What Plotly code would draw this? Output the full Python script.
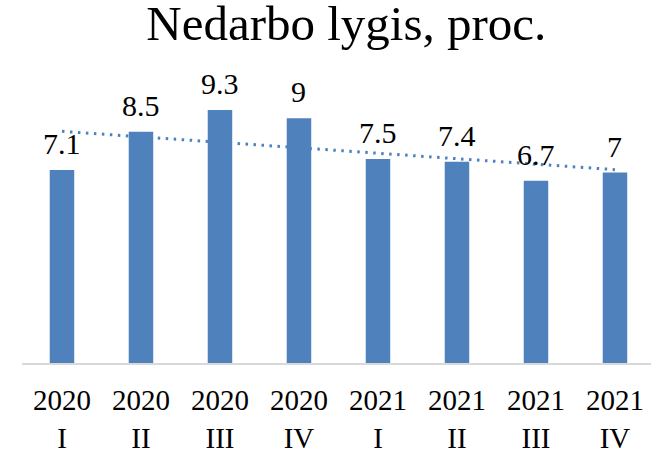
import numpy as np
import plotly.graph_objects as go

years = ["2020", "2020", "2020", "2020", "2021", "2021", "2021", "2021"]
quarters = ["I", "II", "III", "IV", "I", "II", "III", "IV"]
values = [7.1, 8.5, 9.3, 9.0, 7.5, 7.4, 6.7, 7.0]
title_text = "Nedarbo lygis, proc."

blue = "#4F81BD"
serif = "Liberation Serif, Times New Roman, serif"

idx = np.arange(len(values))
labels = [f"{y}<br>{q}" for y, q in zip(years, quarters)]

# linear trendline (as in spreadsheet)
slope, intercept = np.polyfit(idx, values, 1)
trend = slope * idx + intercept

fig = go.Figure()
fig.add_trace(go.Bar(x=idx, y=values, marker=dict(color=blue, line=dict(width=0)),
                     hoverinfo="skip"))
fig.add_trace(go.Scatter(x=idx, y=trend, mode="lines",
                         line=dict(color=blue, width=3, dash="2.5px,5.5px"),
                         hoverinfo="skip"))

for i, v in zip(idx, values):
    fig.add_annotation(x=i, y=v, text=f"{v:g}", showarrow=False,
                       xanchor="center", yanchor="bottom", yshift=8,
                       font=dict(family=serif, size=30, color="black"))

fig.update_layout(
    width=651, height=453,
    margin=dict(l=22, r=0, t=91, b=90),
    paper_bgcolor="white", plot_bgcolor="white",
    showlegend=False,
    bargap=0.69,
    title=dict(text=title_text, x=0.532, xanchor="center", xref="container",
               y=0.949, yanchor="middle", yref="container",
               font=dict(family=serif, size=49, color="black")),
    xaxis=dict(range=[-0.506, 7.456], tickmode="array", tickvals=idx, ticktext=labels,
               showgrid=False, zeroline=False, showline=True, linecolor="#D9D9D9",
               linewidth=2, ticks="", ticklabelstandoff=10, automargin=False,
               tickfont=dict(family=serif, size=29, color="black")),
    yaxis=dict(range=[0, 10], visible=False, showgrid=False, zeroline=False,
               automargin=False),
)

fig.write_html("out.html", config={"displayModeBar": False},
               post_script="document.body.style.margin='0';document.body.style.overflow='hidden';")
